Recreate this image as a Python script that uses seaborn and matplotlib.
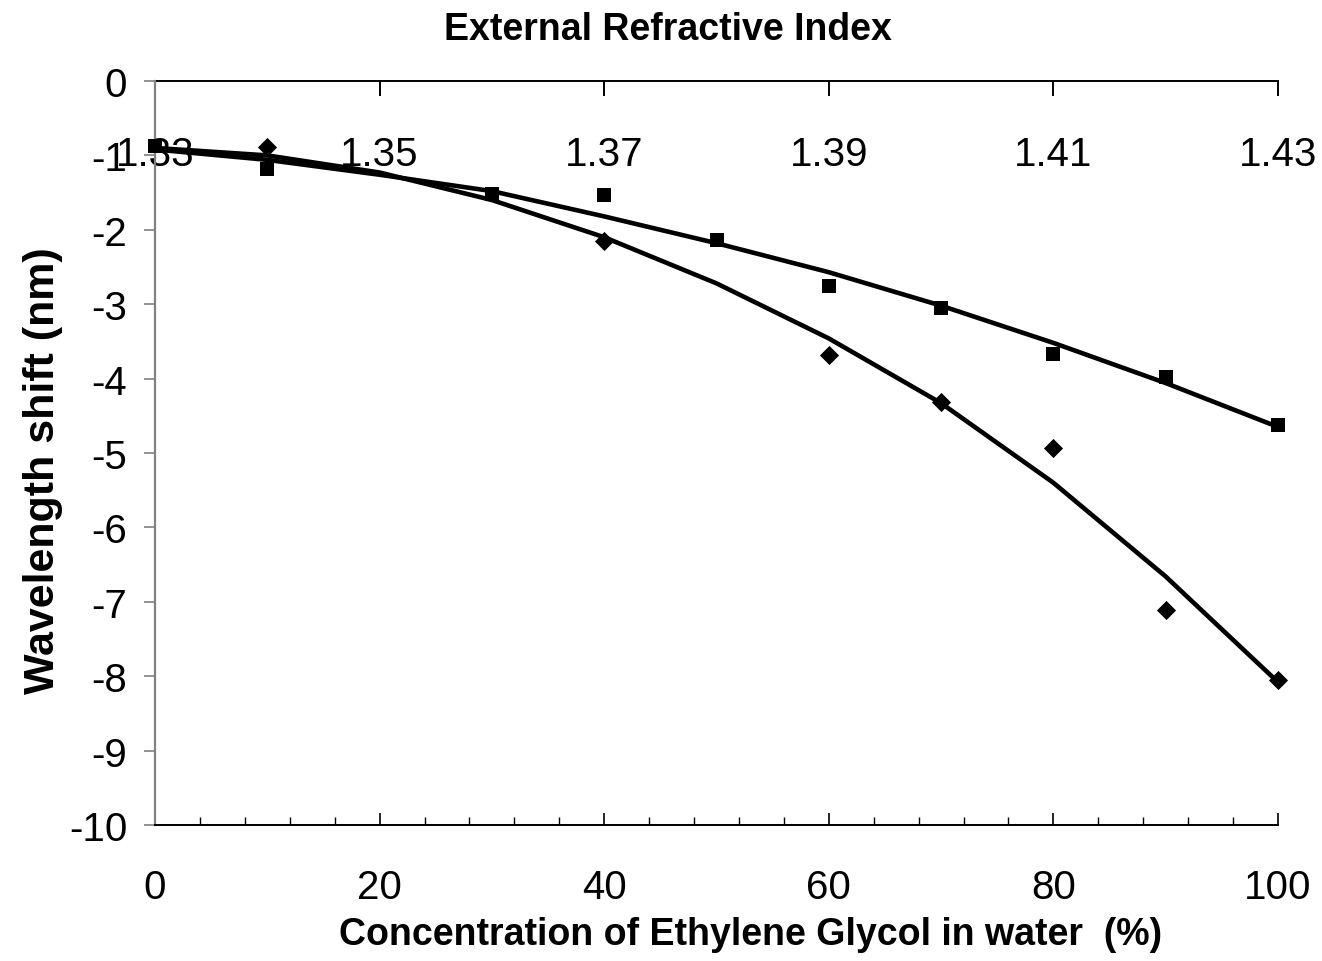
import matplotlib
matplotlib.use('Agg')
import matplotlib.pyplot as plt
import seaborn as sns
import pandas as pd
from matplotlib.ticker import MultipleLocator

# ---- data ----
conc_sq = [0, 10, 30, 40, 50, 60, 70, 80, 90, 100]
shift_sq = [-0.87, -1.18, -1.52, -1.53, -2.14, -2.76, -3.05, -3.67, -3.98, -4.62]
conc_dm = [10, 40, 60, 70, 80, 90, 100]
shift_dm = [-0.89, -2.15, -3.68, -4.31, -4.93, -7.11, -8.05]

fit_x = [0, 10, 20, 30, 40, 50, 60, 70, 80, 90, 100]
fit_sq = [-0.92, -1.06, -1.26, -1.48, -1.82, -2.18, -2.57, -3.02, -3.52, -4.06, -4.65]
fit_dm = [-0.90, -1.00, -1.23, -1.60, -2.10, -2.72, -3.46, -4.33, -5.40, -6.66, -8.08]

ri_pos = [0, 20, 40, 60, 80, 100]
ri_labels = ['1.33', '1.35', '1.37', '1.39', '1.41', '1.43']
y_ticks = list(range(0, -11, -1))
x_ticks = [0, 20, 40, 60, 80, 100]

sns.set_theme(style='white')
plt.rcParams['font.family'] = ['Liberation Sans', 'DejaVu Sans']
plt.rcParams.update({'text.color': 'black', 'axes.labelcolor': 'black',
                     'xtick.color': 'black', 'ytick.color': 'black'})

fig = plt.figure(figsize=(13.22, 9.62), dpi=100)
ax = fig.add_axes([155/1322, 1-826/962, 1123/1322, 744/962])

df_fit = pd.DataFrame({'x': fit_x + fit_x,
                       'y': fit_sq + fit_dm,
                       's': ['sq']*len(fit_x) + ['dm']*len(fit_x)})
sns.lineplot(data=df_fit, x='x', y='y', units='s', estimator=None,
             color='black', lw=3.3, ax=ax, sort=False, clip_on=False)

sns.scatterplot(x=conc_sq, y=shift_sq, marker='s', s=105, color='black',
                edgecolor='black', linewidth=0, ax=ax, clip_on=False, zorder=5)
sns.scatterplot(x=conc_dm, y=shift_dm, marker='D', s=95, color='black',
                edgecolor='black', linewidth=0, ax=ax, clip_on=False, zorder=5)

ax.set_xlim(0, 100)
ax.set_ylim(-10, 0)
ax.set_xticks(x_ticks)
ax.set_xticklabels([str(v) for v in x_ticks])
ax.xaxis.set_minor_locator(MultipleLocator(4))
ax.set_yticks(y_ticks)
ax.set_yticklabels([str(v) for v in y_ticks])

for s in ['top', 'right']:
    ax.spines[s].set_visible(False)
ax.spines['left'].set_color('#808080')
ax.spines['left'].set_linewidth(1.6)
ax.spines['bottom'].set_color('black')
ax.spines['bottom'].set_linewidth(1.4)

ax.tick_params(axis='x', which='both', bottom=True, top=False)
ax.tick_params(axis='x', which='major', direction='in', length=9, width=1.2,
               color='black', labelcolor='black', labelsize=29, pad=31)
ax.tick_params(axis='x', which='minor', direction='in', length=6, width=1.0,
               color='black')
ax.tick_params(axis='y', which='major', left=True, direction='out', length=8,
               width=1.2, color='#808080', labelcolor='black', labelsize=29,
               pad=12)

sec = ax.secondary_xaxis('top')
sec.set_xticks(ri_pos)
sec.set_xticklabels(ri_labels)
sec.spines['top'].set_linewidth(1.4)
sec.spines['top'].set_color('black')
sec.tick_params(axis='x', top=True, direction='in', length=11, width=1.4,
                color='black', labelcolor='black', labelsize=29, pad=-66)

ax.set_xlabel('Concentration of Ethylene Glycol in water  (%)',
              fontsize=27, fontweight='bold')
ax.xaxis.set_label_coords(0.53, -0.122)
ax.set_ylabel('Wavelength shift (nm)', fontsize=31, fontweight='bold')
ax.yaxis.set_label_coords(-0.082, 0.478)

fig.text(668/1322, 1-30/962, 'External Refractive Index', ha='center',
         va='center', fontsize=27, fontweight='bold')

fig.savefig('out.png', dpi=100)
